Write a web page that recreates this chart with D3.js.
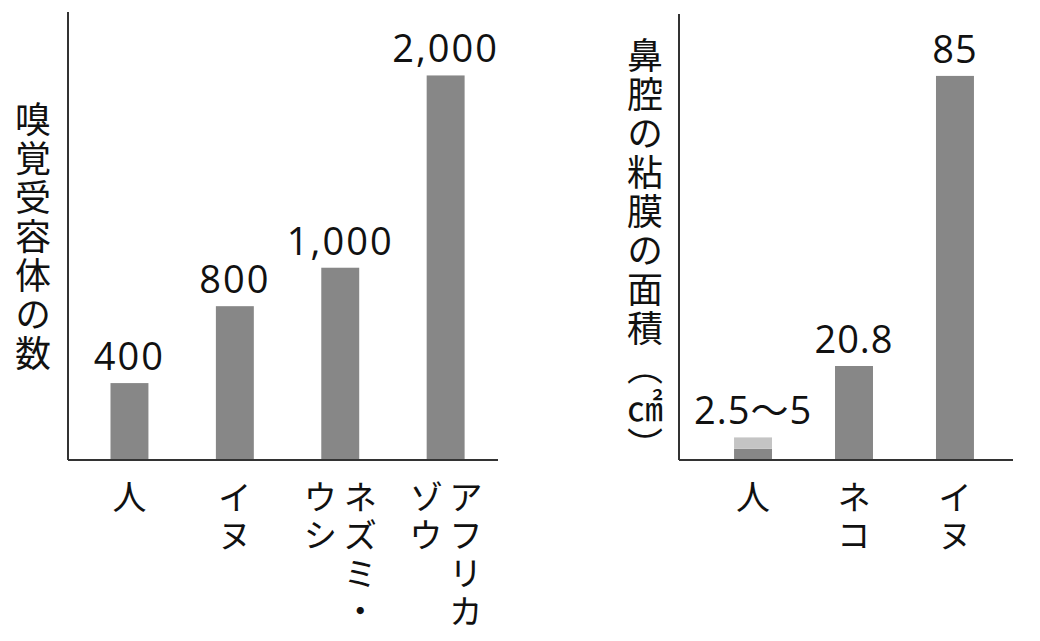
<!DOCTYPE html>
<html>
<head>
<meta charset="utf-8">
<script src="https://cdn.jsdelivr.net/npm/d3@7"></script>
<style>
  body { margin: 0; background: #fff; }
  svg { display: block; }
  .vert { writing-mode: vertical-rl; text-orientation: upright; }
</style>
</head>
<body>
<script>
// left chart: number of olfactory receptors
var countCats = ["人", "イヌ", "ネズミ・ウシ", "アフリカゾウ"];
var countColumns = [["人"], ["イヌ"], ["ネズミ・", "ウシ"], ["アフリカ", "ゾウ"]];
var countValues = [400, 800, 1000, 2000];

// right chart: nasal mucosa area (cm2)
var areaCats = ["人", "ネコ", "イヌ"];
var areaColumns = [["人"], ["ネコ"], ["イヌ"]];
var areaMin = [2.5, 20.8, 85];
var areaMax = [5, 20.8, 85];
var areaLabels = ["2.5〜5", "20.8", "85"];

var countTitle = "嗅覚受容体の数";
var areaTitle = "鼻腔の粘膜の面積（㎠）";

var width = 1040, height = 641;
var jp = "'Noto Sans CJK JP', sans-serif";
var num = "'Open Sans', 'Noto Sans CJK JP', sans-serif";
var barColor = "#878787", lightColor = "#c4c4c4", axisColor = "#333";

var svg = d3.select("body").append("svg")
    .attr("width", width)
    .attr("height", height);

var fmt = d3.format(",");

// ---------- left ----------
var left = { x0: 68, x1: 498, top: 12, base: 460 };

var xL = d3.scaleBand()
    .domain(countCats)
    .range([left.x0, left.x1])
    .paddingInner(0.64)
    .paddingOuter(0.36)
    .align(0.56);

var yL = d3.scaleLinear()
    .domain([0, 2330])
    .range([left.base, left.top]);

svg.selectAll(".barL")
    .data(countCats)
    .enter()
    .append("rect")
    .attr("class", "barL")
    .attr("x", function(d){ return xL(d); })
    .attr("width", xL.bandwidth())
    .attr("y", function(d, i){ return yL(countValues[i]); })
    .attr("height", function(d, i){ return yL(0) - yL(countValues[i]); })
    .style("fill", barColor);

svg.selectAll(".valL")
    .data(countCats)
    .enter()
    .append("text")
    .attr("class", "valL")
    .attr("x", function(d){ return xL(d) + xL.bandwidth() / 2; })
    .attr("y", function(d, i){ return yL(countValues[i]) - 13; })
    .attr("text-anchor", "middle")
    .style("font-family", num)
    .style("font-size", "38px")
    .style("letter-spacing", "2px")
    .style("fill", "#111")
    .text(function(d, i){ return fmt(countValues[i]); });

drawAxes(svg, left);
drawCatLabels(svg, countCats, countColumns, xL, 480);

svg.append("text")
    .attr("class", "vert")
    .attr("x", 33)
    .attr("y", 101)
    .style("font-family", jp)
    .style("font-size", "36px")
    .style("letter-spacing", "3px")
    .style("fill", "#111")
    .text(countTitle);

// ---------- right ----------
var right = { x0: 679, x1: 1013, top: 14, base: 460 };

var xR = d3.scaleBand()
    .domain(areaCats)
    .range([right.x0, right.x1])
    .paddingInner(0.624)
    .paddingOuter(0.466)
    .align(0.585);

var yR = d3.scaleLinear()
    .domain([0, 98.7])
    .range([right.base, right.top]);

// dark part up to the lower value
svg.selectAll(".barR")
    .data(areaCats)
    .enter()
    .append("rect")
    .attr("class", "barR")
    .attr("x", function(d){ return xR(d); })
    .attr("width", xR.bandwidth())
    .attr("y", function(d, i){ return yR(areaMin[i]); })
    .attr("height", function(d, i){ return yR(0) - yR(areaMin[i]); })
    .style("fill", barColor);

// light part for the range
svg.selectAll(".rangeR")
    .data(areaCats)
    .enter()
    .append("rect")
    .attr("class", "rangeR")
    .attr("x", function(d){ return xR(d); })
    .attr("width", xR.bandwidth())
    .attr("y", function(d, i){ return yR(areaMax[i]); })
    .attr("height", function(d, i){ return yR(areaMin[i]) - yR(areaMax[i]); })
    .style("fill", lightColor);

svg.selectAll(".valR")
    .data(areaCats)
    .enter()
    .append("text")
    .attr("class", "valR")
    .attr("x", function(d){ return xR(d) + xR.bandwidth() / 2; })
    .attr("y", function(d, i){ return yR(areaMax[i]) - 13; })
    .attr("text-anchor", "middle")
    .style("font-family", num)
    .style("font-size", "38px")
    .style("letter-spacing", "1px")
    .style("fill", "#111")
    .text(function(d, i){ return areaLabels[i]; });

drawAxes(svg, right);
drawCatLabels(svg, areaCats, areaColumns, xR, 480);

svg.append("text")
    .attr("class", "vert")
    .attr("x", 645)
    .attr("y", 37)
    .style("font-family", jp)
    .style("font-size", "36px")
    .style("letter-spacing", "3px")
    .style("fill", "#111")
    .text(areaTitle);

function drawAxes(svg, box){
    var g = svg.append("g")
        .style("stroke", axisColor)
        .style("stroke-width", 2);
    g.append("line")
        .attr("x1", box.x0).attr("x2", box.x0)
        .attr("y1", box.top).attr("y2", box.base);
    g.append("line")
        .attr("x1", box.x0).attr("x2", box.x1)
        .attr("y1", box.base).attr("y2", box.base);
}

// vertical category labels, columns read right to left
function drawCatLabels(svg, cats, columns, x, top){
    var colGap = 40;
    cats.forEach(function(cat, i){
        var cols = columns[i];
        var cx = x(cat) + x.bandwidth() / 2;
        cols.forEach(function(col, j){
            svg.append("text")
                .attr("class", "vert")
                .attr("x", cx + ((cols.length - 1) / 2 - j) * colGap)
                .attr("y", top)
                .style("font-family", jp)
                .style("font-size", "34px")
                .style("letter-spacing", "4px")
                .style("fill", "#111")
                .text(col);
        });
    });
}
</script>
</body>
</html>
